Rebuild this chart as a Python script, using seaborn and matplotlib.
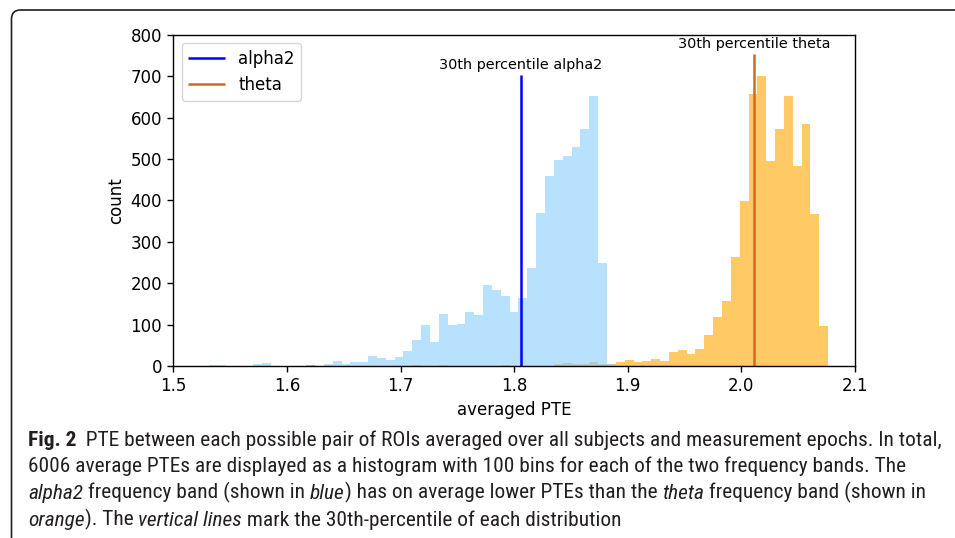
import numpy as np
import pandas as pd
import matplotlib
matplotlib.use("Agg")
import matplotlib.pyplot as plt
from matplotlib import font_manager
from matplotlib.patches import FancyBboxPatch
import seaborn as sns

# ---------------- data ----------------
bin_range = (1.2976, 2.0764)   # common range of the 100 bins
n_bins = 100
first_bin = 25                  # counts below are for bins 25..99

alpha2_counts = [
    0, 0, 1, 0, 1, 2, 2, 0, 0, 1,          # 25-34
    5, 7, 0, 1, 0, 1, 2, 1, 4, 11,         # 35-44
    6, 10, 10, 24, 19, 14, 22, 36, 63, 98,  # 45-54
    58, 125, 99, 101, 130, 123, 196, 183, 168, 131,  # 55-64
    165, 236, 370, 459, 497, 507, 528, 573, 653, 248,  # 65-74
    6, 0, 0, 0, 0, 0, 0, 0, 0, 0,          # 75-84
    0, 0, 0, 0, 0, 0, 0, 0, 0, 0,          # 85-94
    0, 0, 0, 0, 0,                         # 95-99
]
theta_counts = [
    0, 0, 0, 0, 0, 0, 0, 0, 0, 0,          # 25-34
    0, 0, 0, 0, 0, 0, 2, 0, 0, 1,          # 35-44
    0, 0, 0, 0, 0, 0, 0, 0, 2, 0,          # 45-54
    0, 3, 0, 0, 0, 0, 0, 0, 3, 0,          # 55-64
    0, 0, 0, 0, 4, 7, 5, 5, 9, 5,          # 65-74
    6, 10, 14, 9, 12, 18, 12, 34, 38, 30,  # 75-84
    40, 76, 119, 157, 263, 399, 657, 701, 495, 573,  # 85-94
    651, 483, 585, 368, 96,                # 95-99
]
bands = ["alpha2", "theta"]
percentile_30 = [1.806, 2.011]
percentile_line_top = [702, 753]
percentile_labels = ["30th percentile alpha2", "30th percentile theta"]

xlabel = "averaged PTE"
ylabel = "count"

caption_lines = [
    [("Fig. 2", "b"), ("  PTE between each possible pair of ROIs averaged over all subjects and measurement epochs. In total,", "n")],
    [("6006 average PTEs are displayed as a histogram with 100 bins for each of the two frequency bands. The", "n")],
    [("alpha2", "i"), (" frequency band (shown in ", "n"), ("blue", "i"),
     (") has on average lower PTEs than the ", "n"), ("theta", "i"), (" frequency band (shown in", "n")],
    [("orange", "i"), ("). The ", "n"), ("vertical lines", "i"),
     (" mark the 30th-percentile of each distribution", "n")],
]

# ---------------- figure ----------------
W, H = 955, 538
fig = plt.figure(figsize=(W / 100, H / 100), dpi=100)
ax = fig.add_axes([173.3 / W, 1 - 366 / H, (855 - 173.3) / W, (366 - 34.7) / H])

edges = np.linspace(bin_range[0], bin_range[1], n_bins + 1)
centers = (edges[:-1] + edges[1:]) / 2
idx = np.arange(first_bin, n_bins)
df = pd.DataFrame({
    "x": np.concatenate([centers[idx], centers[idx]]),
    "w": np.concatenate([theta_counts, alpha2_counts]),
    "band": ["theta"] * len(idx) + ["alpha2"] * len(idx),
})

hist_colors = {"alpha2": "lightskyblue", "theta": "orange"}
line_colors = {"alpha2": "blue", "theta": "chocolate"}

for band in ["theta", "alpha2"]:
    sub = df[df["band"] == band]
    sns.histplot(data=sub, x="x", weights="w", bins=n_bins, binrange=bin_range,
                 color=hist_colors[band], alpha=0.6, linewidth=0, ax=ax)

handles = []
for band, px, top, lab in zip(bands, percentile_30, percentile_line_top, percentile_labels):
    h = ax.vlines(px, 0, top, color=line_colors[band], linewidth=1.8, label=band)
    handles.append(h)
    ax.text(px, top + 7, lab, ha="center", va="bottom", fontsize=10.4, color="black")

ax.set_xlim(1.5, 2.1)
ax.set_ylim(0, 800)
ax.set_xticks([1.5, 1.6, 1.7, 1.8, 1.9, 2.0, 2.1])
ax.set_yticks(range(0, 801, 100))
ax.set_xlabel(xlabel, fontsize=12)
ax.set_ylabel(ylabel, fontsize=12)
ax.tick_params(labelsize=12, length=4.5, width=1, direction="out")
for s in ax.spines.values():
    s.set_linewidth(1)
    s.set_visible(True)
ax.legend(handles=handles, labels=bands, loc="upper left", fontsize=12,
          handlelength=2.2)

# ---------------- caption & frame ----------------
cax = fig.add_axes([0, 0, 1, 1], zorder=-1)
cax.set_xlim(0, W)
cax.set_ylim(H, 0)
cax.axis("off")

frame = FancyBboxPatch((11.5, 10), 3000, 3000, boxstyle="round,pad=0,rounding_size=9",
                       transform=cax.transData, fill=False, edgecolor="#231f20",
                       linewidth=1.2, clip_on=False)
cax.add_patch(frame)

names = {f.name for f in font_manager.fontManager.ttflist}
cap_family = "Liberation Sans"
for cand in ["Liberation Sans Narrow", "Roboto Condensed", "Open Sans Condensed", "Liberation Sans"]:
    if cand in names:
        cap_family = cand
        break
cap_color = "#231f20"


def draw_line(runs, x0, yb, size):
    prev = None
    for txt, st in runs:
        kw = dict(fontsize=size, color=cap_color, family=cap_family,
                  fontweight="bold" if st == "b" else "normal",
                  fontstyle="italic" if st == "i" else "normal")
        if prev is None:
            prev = cax.text(x0, yb, txt, ha="left", va="baseline", **kw)
        else:
            prev = cax.annotate(txt, xy=(1, 0), xycoords=prev, ha="left", va="bottom",
                                annotation_clip=False, **kw)
    return prev


renderer = fig.canvas.get_renderer()
tmp = cax.text(0, 0, caption_lines[1][0][0], fontsize=10, family=cap_family)
wtmp = tmp.get_window_extent(renderer).width
tmp.remove()
cap_size = 10 * (888 - 28) / wtmp * 1.013

baselines = [446, 472.5, 499, 525.5]
for runs, yb in zip(caption_lines, baselines):
    draw_line(runs, 28, yb, cap_size)

fig.savefig("out.png", dpi=100)
